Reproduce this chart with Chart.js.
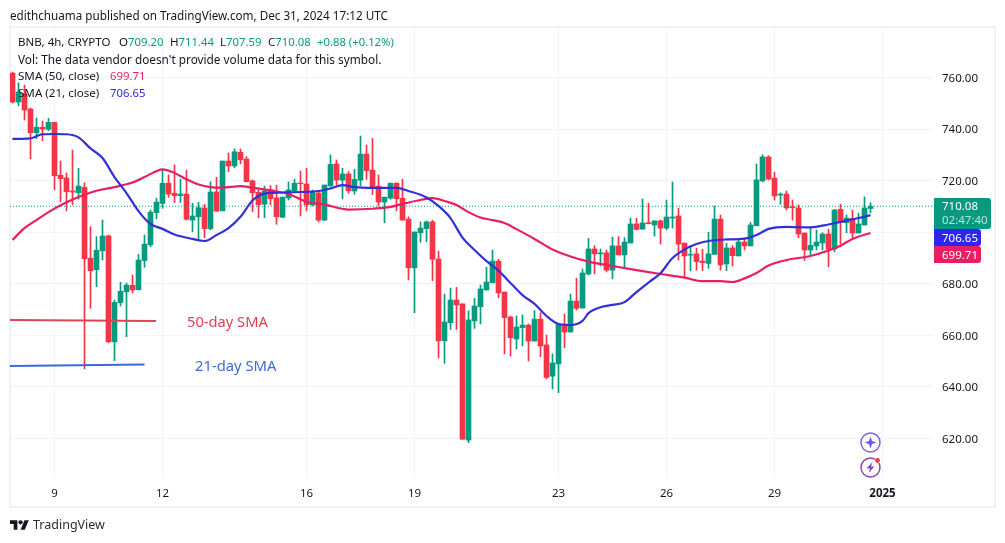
<!DOCTYPE html>
<html>
<head>
<meta charset="utf-8">
<title>BNB 4h</title>
<script src="https://cdn.jsdelivr.net/npm/chart.js@4"></script>
<style>
  body { margin: 0; background: #fff; font-family: "Noto Sans", sans-serif; color: #131722; }
  #wrap { position: relative; width: 1005px; height: 543px; overflow: hidden; }
  #frame { position: absolute; left: 9px; top: 26px; width: 983px; height: 478px; border: 2px solid #f0f1f4; }
  canvas { position: absolute; left: 0; top: 0; }
  .t { position: absolute; white-space: nowrap; font-size: 11.6px; line-height: 16px; }
  .n { font-size: 11.3px; }
  .up { color: #089981; }
  svg { position: absolute; }
</style>
</head>
<body>
<div id="wrap">
  <div id="frame"></div>
  <canvas id="chart" width="1005" height="543"></canvas>

  <div class="t" style="left:10px;top:7px;font-size:11.7px">edithchuama published on TradingView.com, Dec 31, 2024 17:12 UTC</div>
  <div class="t" style="left:18px;top:34px;font-size:11.5px">BNB, 4h, CRYPTO</div>
  <div class="t" style="left:119px;top:34px">O<span class="up n">709.20</span></div>
  <div class="t" style="left:170px;top:34px">H<span class="up n">711.44</span></div>
  <div class="t" style="left:220px;top:34px">L<span class="up n">707.59</span></div>
  <div class="t" style="left:268px;top:34px">C<span class="up n">710.08</span></div>
  <div class="t up n" style="left:317px;top:34px">+0.88 (+0.12%)</div>
  <div class="t" style="left:18px;top:51px;font-size:11.8px">Vol: The data vendor doesn't provide volume data for this symbol.</div>
  <div class="t" style="left:18px;top:68px">SMA (50, close)</div>
  <div class="t n" style="left:110px;top:68px;color:#e91e63">699.71</div>
  <div class="t" style="left:18px;top:85px">SMA (21, close)</div>
  <div class="t n" style="left:110px;top:85px;color:#2f2ad8">706.65</div>

  <div class="t" style="left:187px;top:312px;font-size:14.7px;line-height:18px;color:#e2404f">50-day SMA</div>
  <div class="t" style="left:195px;top:356px;font-size:14.8px;line-height:18px;color:#3a6ad8">21-day SMA</div>

  <!-- the two round buttons -->
  <svg style="left:858px;top:430px" width="25" height="25" viewBox="0 0 25 25">
    <circle cx="12.5" cy="12.5" r="9.5" fill="#fff" stroke="#7a63f0" stroke-width="1.5"/>
    <path d="M12.5 6.5 L14 11 L18.5 12.5 L14 14 L12.5 18.5 L11 14 L6.5 12.5 L11 11 Z" fill="#6a55f5"/>
  </svg>
  <svg style="left:858px;top:455px" width="25" height="25" viewBox="0 0 25 25">
    <circle cx="12.5" cy="12.5" r="9.5" fill="#fff" stroke="#9a3db5" stroke-width="1.5"/>
    <path d="M14.5 7 L8.5 13.5 L12 13.5 L10.5 18 L16.5 11.5 L13 11.5 Z" fill="#8f3fc0"/>
    <circle cx="19.5" cy="5.5" r="3" fill="#fff"/>
    <circle cx="19.5" cy="5.5" r="2.4" fill="#f23645"/>
  </svg>

  <!-- TradingView mark -->
  <svg style="left:10px;top:518px" width="19" height="15" viewBox="0 0 36 28">
    <path d="M14 22H7V11H0V4h14v18zM28 22h-8l7.5-18h8L28 22z" fill="#131722"/>
    <circle cx="20" cy="8" r="4" fill="#131722"/>
  </svg>
  <div class="t" style="left:33px;top:516px;font-size:12.5px;line-height:18px;color:#2a2e39">TradingView</div>
</div>

<script>
// values, one entry per 4h candle
const opens = [761.7,750.5,753.6,747.8,738.6,740.7,739.9,742.6,722.1,721.0,716.0,715.3,717.4,689.9,685.5,692.8,698.6,657.5,672.7,676.9,
  679.4,677.7,689.0,695.1,707.6,711.2,719.0,715.1,714.2,714.8,704.7,706.0,709.4,701.4,715.6,708.3,727.6,725.7,731.0,728.4,
  719.9,715.5,710.9,716.4,713.3,705.8,713.3,716.0,719.1,718.7,710.6,715.2,704.7,717.9,726.5,720.2,722.6,716.0,720.2,730.3,
  724.1,717.9,711.7,713.2,719.0,713.2,705.1,686.2,699.8,701.4,704.0,689.6,657.9,664.9,673.7,672.2,619.4,665.6,671.1,677.6,
  680.4,688.8,676.8,667.1,658.6,663.0,664.0,657.8,666.3,656.3,644.2,648.9,664.4,661.3,673.3,670.6,683.8,693.5,691.6,692.0,
  685.3,694.7,691.2,695.8,703.2,701.2,703.7,702.8,704.4,701.6,705.5,706.3,695.8,691.1,691.6,688.8,687.9,691.4,705.1,687.7,
  693.9,690.8,696.2,694.7,702.5,719.9,729.2,721.0,714.4,714.8,709.9,709.4,699.7,693.1,694.7,695.8,699.3,693.5,708.9,703.7,
  705.4,699.7,702.8,709.2];
const highs = [762.1,757.9,757.1,748.2,744.3,743.1,744.2,742.7,727.6,723.0,731.9,724.8,719.2,702.1,698.3,704.7,698.9,673.7,680.6,680.3,
  683.4,691.4,698.9,708.6,713.2,724.4,722.2,726.1,720.6,724.1,711.2,711.6,710.8,719.6,721.3,727.6,730.7,732.3,732.3,729.3,
  720.3,716.4,717.9,718.1,718.3,713.7,719.5,720.5,723.7,724.8,716.4,715.7,718.3,730.0,728.0,724.8,723.5,724.4,737.3,733.8,
  736.4,722.2,713.6,719.1,719.2,720.5,706.0,700.1,704.0,704.4,704.7,692.7,676.0,678.3,678.6,672.2,669.5,674.4,679.5,686.4,
  693.1,689.6,676.8,667.5,667.5,667.9,664.4,669.6,668.8,660.1,652.8,664.4,668.3,676.0,682.2,685.7,697.6,694.8,693.5,693.1,
  698.1,698.3,697.9,705.5,705.4,712.9,711.3,704.4,704.7,712.5,719.5,709.4,695.8,694.4,693.8,693.4,700.0,710.2,706.6,695.7,
  694.8,697.6,697.6,703.8,726.5,730.0,729.7,723.3,715.3,716.0,712.5,710.6,699.7,701.8,700.9,699.8,701.1,708.9,710.9,706.7,
  708.6,707.3,713.7,711.44];
const lows = [750.1,749.0,743.5,728.5,736.2,735.5,739.4,716.4,711.8,708.3,710.6,712.8,647.0,670.5,678.9,689.2,657.2,650.2,671.4,659.5,
  676.5,677.6,686.4,694.4,705.2,709.3,713.5,711.5,711.5,704.7,700.2,697.2,697.9,700.9,708.0,708.3,723.5,725.0,726.5,719.5,
  708.0,705.6,705.6,710.6,703.1,705.7,712.5,715.8,706.3,708.3,710.2,704.0,704.5,717.9,718.3,712.9,715.1,714.7,718.1,720.5,
  714.6,710.2,703.7,712.8,708.3,704.7,681.5,668.8,696.1,696.3,681.2,651.2,649.2,662.3,662.3,619.6,618.4,662.7,664.4,677.6,
  680.3,674.6,652.8,652.0,654.7,655.9,650.1,657.8,651.7,643.1,639.2,637.8,655.2,661.3,669.8,670.6,683.4,683.8,686.9,684.6,
  681.9,691.2,686.5,695.8,700.9,701.2,703.2,698.5,695.4,700.9,701.6,689.2,682.6,685.1,685.3,685.1,686.0,691.4,685.3,685.1,
  686.9,690.8,693.1,694.7,702.5,719.5,720.3,712.5,710.9,708.6,704.7,697.8,689.0,691.1,693.1,693.1,686.6,692.4,695.4,699.8,
  697.7,699.7,702.8,707.59];
const closes = [750.5,754.4,747.4,738.6,740.7,740.0,742.6,721.9,720.8,715.7,715.6,717.9,689.7,685.1,693.0,698.5,657.5,672.8,677.1,679.5,
  677.6,689.2,695.4,707.8,711.7,719.0,714.8,714.2,714.8,705.0,706.3,709.5,701.4,715.6,708.2,727.6,725.7,731.2,728.1,719.6,
  715.3,710.7,716.0,713.0,706.0,713.6,716.4,719.0,718.8,710.6,715.5,704.7,718.3,726.3,720.2,722.6,716.1,720.5,730.3,723.9,
  717.3,711.7,713.6,719.0,713.0,704.7,686.2,700.1,701.6,704.0,689.5,657.9,665.2,673.7,671.8,619.7,666.0,671.4,678.0,680.7,
  688.8,676.5,666.9,659.1,663.2,664.0,657.8,666.3,655.9,643.7,649.3,664.4,661.3,673.3,670.5,684.2,693.5,691.6,692.0,685.3,
  694.7,691.2,696.2,703.2,701.1,703.6,703.3,704.4,701.6,705.9,705.9,695.4,690.8,691.4,688.6,688.2,691.6,705.1,687.3,693.9,
  690.9,696.2,694.7,702.8,720.3,729.2,720.6,714.1,714.8,709.4,709.5,699.3,693.1,694.9,696.2,699.3,693.4,708.6,703.7,705.5,
  699.7,703.2,709.4,710.08];

// moving averages, read at the candles where the line is easy to follow
const sma21Index = [0,3,5,7,9,11,13,15,17,19,21,23,25,27,30,32,34,36,38,40,42,45,48,51,53,55,57,60,64,66,69,71,73,75,77,79,81,83,85,87,89,91,93,95,96,98,100,102,104,106,108,110,112,114,116,119,122,124,126,129,133,136,139,141,143];
const sma21Values = [736.2,736.4,738.0,738.1,738.0,736.8,732.5,728.8,721.4,715.2,708.2,703.2,701.3,699.1,697.4,696.6,698.9,701.6,706.0,712.3,715.0,715.4,715.6,716.0,717.0,718.3,717.5,717.2,717.2,716.0,713.5,710.2,705.5,697.9,693.1,688.8,685.1,680.3,675.6,672.2,667.5,664.4,664.0,665.6,668.6,670.9,671.8,672.9,676.8,680.5,684.1,690.0,693.3,695.4,696.6,697.2,697.5,698.9,701.3,702.1,701.9,703.0,704.5,705.5,706.65];
const sma50Index = [0,2,4,6,9,11,14,17,20,22,24,25,27,29,31,33,35,38,40,43,46,49,52,56,60,63,65,68,70,72,74,76,78,80,82,84,87,90,93,96,100,104,108,112,115,118,120,122,124,126,129,133,136,138,140,143];
const sma50Values = [697.0,701.6,704.7,707.8,711.6,713.7,716.1,717.5,719.3,721.4,723.7,724.4,723.0,720.5,718.5,717.5,717.3,717.9,717.3,716.2,714.8,711.8,710.7,708.8,709.1,709.8,711.0,712.5,713.2,712.1,710.6,707.8,705.7,704.7,703.6,701.2,697.4,693.3,690.6,688.6,686.9,685.3,683.8,682.4,681.0,681.0,680.7,682.1,684.2,687.1,689.2,690.8,692.9,694.8,697.4,699.71];

// hand drawn lines on the published chart
const drawn50 = [{x: -0.42, y: 666.0}, {x: 23.9, y: 665.6}];
const drawn21 = [{x: -0.42, y: 648.1}, {x: 22, y: 648.7}];

const dayTicks = [7, 25, 49, 67, 91, 109, 127, 145];
const dayLabels = ['9', '12', '16', '19', '23', '26', '29', '2025'];
const priceTicks = [620, 640, 660, 680, 700, 720, 740, 760];

const xMin = -0.4167, xMax = 153.4167;
const lastPrice = 710.08, lastSma21 = 706.65, lastSma50 = 699.71;

const upColor = '#089981';
const downColor = '#f23645';
const candleColors = closes.map((c, i) => c >= opens[i] ? upColor : downColor);

// price badges on the right of the pane
const badgePlugin = {
    id: 'badges',
    beforeDraw(chart) {
        // Noto Sans sits a pixel high on the middle baseline
        chart.scales.y.getLabelItems().forEach(item => { item.options.translation[1] += 1; });
    },
    afterDraw(chart) {
        const ctx = chart.ctx;
        const y = chart.scales.y;
        const left = chart.chartArea.right + 1;

        function box(top, h, w, color) {
            ctx.fillStyle = color;
            ctx.beginPath();
            ctx.roundRect(left, top, w, h, [0, 3, 3, 0]);
            ctx.fill();
        }

        ctx.save();
        ctx.textBaseline = 'middle';
        ctx.font = '11.5px "Noto Sans"';

        const top = Math.round(y.getPixelForValue(lastPrice)) - 8;
        box(top, 31, 57, upColor);
        box(top + 31, 17, 47, '#2e26f0');
        box(top + 48, 17, 47, '#e91e63');

        ctx.fillStyle = '#fff';
        ctx.fillText(lastPrice.toFixed(2), 942, top + 9);
        ctx.fillText(lastSma21.toFixed(2), 942, top + 40.5);
        ctx.fillText(lastSma50.toFixed(2), 942, top + 57.5);
        ctx.fillStyle = 'rgba(255,255,255,0.72)';
        ctx.fillText('02:47:40', 942, top + 23);
        ctx.restore();
    }
};

new Chart(document.getElementById('chart').getContext('2d'), {
    type: 'bar',
    data: {
        datasets: [
            {
                type: 'line',
                label: 'SMA 21',
                data: sma21Index.map((x, i) => ({x: x, y: sma21Values[i]})),
                borderColor: '#3430d8',
                borderWidth: 2.2,
                pointRadius: 0,
                cubicInterpolationMode: 'monotone',
                order: 1
            },
            {
                type: 'line',
                label: 'SMA 50',
                data: sma50Index.map((x, i) => ({x: x, y: sma50Values[i]})),
                borderColor: '#e91e63',
                borderWidth: 2.2,
                pointRadius: 0,
                cubicInterpolationMode: 'monotone',
                order: 2
            },
            {
                type: 'line',
                label: 'drawn 50',
                data: drawn50,
                borderColor: '#dc4454',
                borderWidth: 2,
                pointRadius: 0,
                order: 3
            },
            {
                type: 'line',
                label: 'drawn 21',
                data: drawn21,
                borderColor: '#3a6ad8',
                borderWidth: 2,
                pointRadius: 0,
                order: 3
            },
            {
                type: 'line',
                label: 'last',
                data: [{x: xMin, y: lastPrice}, {x: xMax, y: lastPrice}],
                borderColor: upColor,
                borderWidth: 1,
                borderDash: [1, 2],
                pointRadius: 0,
                order: 4
            },
            {
                label: 'body',
                data: closes.map((c, i) => ({x: i, y: [opens[i], c]})),
                backgroundColor: candleColors,
                barThickness: 5,
                grouped: false,
                order: 5
            },
            {
                label: 'wick',
                data: highs.map((h, i) => ({x: i, y: [lows[i], h]})),
                backgroundColor: candleColors,
                barThickness: 1,
                grouped: false,
                order: 6
            }
        ]
    },
    options: {
        responsive: false,
        animation: false,
        layout: { padding: { left: 10, top: 28 } },
        plugins: { legend: { display: false }, tooltip: { enabled: false } },
        scales: {
            x: {
                type: 'linear',
                offset: false,
                min: xMin,
                max: xMax,
                afterFit: s => { s.height = 64; },
                afterBuildTicks: s => { s.ticks = dayTicks.map(v => ({value: v})); },
                border: { display: false },
                grid: { color: '#f0f3fa', offset: false, drawTicks: false },
                ticks: {
                    autoSkip: false,
                    maxRotation: 0,
                    padding: 8,
                    color: '#131722',
                    font: ctx => ({
                        family: '"Noto Sans"',
                        size: 11.5,
                        weight: ctx.tick && ctx.tick.value === 145 ? 'bold' : 'normal'
                    }),
                    callback: v => dayLabels[dayTicks.indexOf(v)]
                }
            },
            y: {
                position: 'right',
                min: 604.3,
                max: 779.2,
                afterFit: s => { s.width = 72; },
                afterBuildTicks: s => { s.ticks = priceTicks.map(v => ({value: v})); },
                border: { display: false },
                grid: { color: '#f0f3fa', drawTicks: false },
                ticks: {
                    padding: 9,
                    color: '#131722',
                    font: { family: '"Noto Sans"', size: 11.5 },
                    callback: v => v.toFixed(2)
                }
            }
        }
    },
    plugins: [badgePlugin]
});
</script>
</body>
</html>
